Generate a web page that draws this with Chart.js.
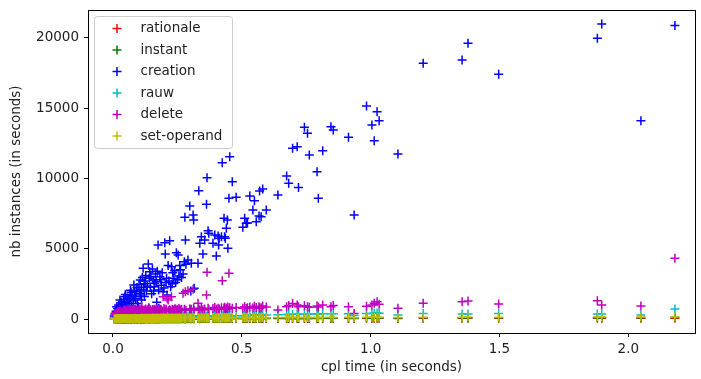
<!DOCTYPE html>
<html>
<head>
<meta charset="utf-8">
<script src="https://cdn.jsdelivr.net/npm/chart.js@4.4.0/dist/chart.umd.min.js"></script>
<style>
  html, body { margin: 0; padding: 0; background: #fff; }
  #wrap { width: 701px; height: 379px; }
</style>
</head>
<body>
<div id="wrap"><canvas id="scatterChart" width="701" height="379"></canvas></div>
<script>
/* series + ticks */
const seriesNames = ['rationale', 'instant', 'creation', 'rauw', 'delete', 'set-operand'];
const seriesColors = ['#ff0000', '#008000', '#0000ff', '#00bfbf', '#bf00bf', '#bfbf00'];
const xTicks = [0, 0.5, 1, 1.5, 2];
const yTicks = [0, 5000, 10000, 15000, 20000];

// cpl time of each instance (shared by every series)
const cplTime = [0.005,0.008,0.010,0.014,0.015,0.020,0.025,0.027,0.030,0.034,
  0.040,0.044,0.046,0.050,0.053,0.059,0.062,0.066,0.070,0.072,
  0.079,0.081,0.085,0.090,0.095,0.098,0.104,0.106,0.110,0.111,
  0.117,0.119,0.122,0.125,0.130,0.137,0.139,0.141,0.143,0.145,
  0.150,0.156,0.160,0.162,0.165,0.170,0.175,0.177,0.178,0.182,
  0.184,0.188,0.195,0.201,0.203,0.206,0.208,0.210,0.214,0.220,
  0.224,0.227,0.232,0.240,0.246,0.250,0.253,0.256,0.262,0.272,
  0.279,0.281,0.277,0.283,0.291,0.298,0.302,0.304,0.311,0.313,
  0.315,0.330,0.333,0.337,0.343,0.349,0.356,0.365,0.363,0.369,
  0.372,0.388,0.395,0.401,0.408,0.410,0.412,0.421,0.424,0.431,
  0.433,0.436,0.440,0.444,0.446,0.453,0.450,0.463,0.478,0.504,
  0.511,0.517,0.522,0.531,0.543,0.549,0.556,0.569,0.567,0.575,
  0.581,0.595,0.640,0.674,0.682,0.697,0.715,0.720,0.743,0.755,
  0.762,0.792,0.797,0.814,0.846,0.855,0.914,0.936,0.984,1.005,
  1.014,1.025,1.033,1.106,1.204,1.355,1.378,1.497,1.880,1.897,
  2.049,2.181,
  0.012,0.018,0.022,0.032,0.037,0.042,0.048,0.056,0.064,0.068,
  0.075,0.083,0.088,0.093,0.101,0.108,0.114,0.121,0.127,0.133,
  0.147,0.153,0.158,0.168,0.172,0.186,0.191,0.198,0.217,0.230,
  0.236,0.243,0.259,0.266];

const rationale = [0,2,4,6,3,8,5,10,6,8,
  12,8,14,10,12,8,14,16,12,14,
  10,16,12,14,8,12,16,14,10,18,
  14,12,16,18,12,20,16,14,18,12,
  16,18,20,14,18,12,22,16,14,20,
  16,18,20,22,16,20,18,20,22,24,
  18,22,20,24,22,20,24,22,24,26,
  24,26,22,24,26,28,24,26,28,24,
  26,28,28,26,28,30,28,30,28,30,
  28,30,32,30,32,28,30,32,34,32,
  34,32,34,32,34,36,34,36,34,36,
  36,34,36,38,36,38,36,38,36,38,
  40,38,40,42,40,44,42,44,42,44,
  44,46,44,46,48,46,48,36,50,48,
  50,52,50,44,52,52,54,52,56,56,
  54,60,
  4,6,8,10,8,12,14,12,10,14,
  16,12,18,14,16,12,18,16,20,16,
  18,20,16,22,20,22,18,24,20,24,
  22,24,26,24];

const instant = [3,6,9,12,8,15,10,18,12,15,
  20,14,24,18,20,15,24,28,20,24,
  18,28,20,24,15,20,28,24,18,30,
  24,20,28,30,20,34,28,24,30,20,
  28,30,34,24,30,20,38,28,24,34,
  28,30,34,38,28,34,30,34,38,40,
  30,38,34,40,38,34,40,38,40,44,
  40,44,38,40,44,48,40,44,48,40,
  44,48,48,44,48,50,48,50,48,50,
  48,50,54,50,54,48,50,54,56,54,
  56,54,56,54,56,60,56,60,56,60,
  60,56,60,64,60,64,60,64,60,64,
  66,64,66,70,66,72,70,72,70,72,
  72,76,72,76,80,76,80,60,84,80,
  84,86,84,72,86,86,90,86,92,92,
  90,100,
  8,12,15,18,15,20,24,20,18,24,
  28,20,30,24,28,20,30,28,34,28,
  30,34,28,38,34,38,30,40,34,40,
  38,40,44,40];

const creation = [150,410,300,880,200,600,250,1350,900,410,
  760,1200,1590,1000,1230,520,1400,1710,1900,930,
  1300,2420,1590,2000,1100,880,1830,2780,2100,1350,
  3610,2260,1600,2500,2000,3910,760,2900,3370,2260,
  1800,2780,2300,2540,3200,1200,5270,2060,760,3010,
  640,2400,1940,5430,4630,2600,2900,1710,3800,5570,
  2300,3720,3300,3440,4720,2800,4560,3060,3500,3200,
  7240,5620,4080,3900,4200,8040,1990,3960,7400,7050,
  2190,3960,9130,5390,5860,4630,5620,10060,8160,6280,
  6100,5390,5980,4480,5910,5270,5740,5860,11120,7170,
  5860,5740,6460,7050,5030,11550,8590,9770,8660,6530,
  7170,6810,6830,8750,7760,8420,6920,9110,7330,7280,
  9250,7760,8830,10180,9660,12150,12260,9350,13640,13220,
  11670,10480,8590,11980,13690,13450,12930,7400,15160,13810,
  12690,14750,14110,11740,18200,18430,19620,17420,19980,21000,
  14110,20880,
  550,750,1000,1150,950,1400,1750,1500,1100,2050,
  1650,1950,1450,2250,2450,1700,2950,2700,3100,2350,
  3000,3550,2000,2650,3400,2800,3300,2200,2700,2500,
  2900,2600,3800,2950];

const rauw = [60,80,70,90,60,100,80,110,90,100,
  120,90,130,110,120,100,130,140,120,130,
  110,150,120,140,100,130,150,140,120,160,
  150,130,140,150,130,160,150,140,150,130,
  140,150,160,140,150,130,160,150,140,160,
  150,140,160,170,150,160,150,160,170,160,
  150,170,160,170,160,170,160,170,170,180,
  170,180,170,170,190,180,180,180,190,180,
  180,190,190,190,190,190,200,200,200,200,
  200,210,210,210,210,200,210,220,220,220,
  220,220,220,230,230,230,230,230,240,240,
  250,250,250,260,260,260,260,270,270,270,
  280,280,300,320,320,330,330,340,340,350,
  350,360,360,370,370,380,380,250,400,400,
  410,420,410,285,400,356,356,400,356,356,
  285,710,
  70,80,90,100,90,110,120,120,110,130,
  130,120,140,130,140,130,150,140,150,140,
  150,150,140,160,150,160,150,160,160,170,
  160,170,170,170];

const deleteCounts = [250,320,380,450,300,520,350,600,420,480,
  560,400,650,500,580,450,620,700,540,600,
  520,680,560,610,480,640,700,580,520,880,
  620,540,600,680,560,700,800,620,590,660,
  540,620,700,580,640,560,700,620,520,660,
  600,580,1590,640,560,700,620,1470,1350,660,
  580,1590,640,720,600,680,560,740,620,1830,
  660,1940,700,600,2010,720,640,700,2110,760,
  620,1120,700,640,780,660,720,3320,1710,760,
  680,740,820,700,760,680,720,800,2730,760,
  840,700,780,720,860,800,3250,760,820,760,
  880,740,800,860,780,900,820,760,880,800,
  920,860,640,880,960,1100,1000,880,940,880,
  840,920,860,1000,880,960,880,400,900,1000,
  1120,1230,1050,760,1120,1230,1280,1070,1300,1000,
  925,4320,
  280,420,360,500,380,600,520,640,460,580,
  660,500,720,560,620,540,660,580,720,640,
  560,680,600,720,640,700,560,740,600,700,
  640,720,660,700];

const setOperand = [0,5,10,15,5,20,10,25,15,20,
  30,20,35,25,30,20,35,40,30,35,
  25,40,30,35,20,30,40,35,25,45,
  35,30,40,45,30,50,40,35,45,30,
  40,45,50,35,45,30,55,40,35,50,
  40,45,50,55,40,50,45,50,55,60,
  45,55,50,60,55,50,60,55,60,65,
  60,65,55,60,65,70,60,65,70,60,
  65,70,70,65,70,75,70,75,70,75,
  70,75,80,75,80,70,75,80,85,80,
  85,80,85,80,85,90,85,90,85,90,
  90,85,90,95,90,95,90,95,90,95,
  100,95,100,105,100,110,105,110,105,110,
  110,115,110,115,120,115,120,90,125,120,
  125,130,125,110,130,130,135,130,140,140,
  135,150,
  10,15,20,25,20,30,35,30,25,35,
  40,30,45,35,40,30,45,40,50,40,
  45,50,40,55,50,55,45,60,50,60,
  55,60,65,60];

const seriesValues = [rationale, instant, creation, rauw, deleteCounts, setOperand];

const FONT = 'DejaVu Sans';
const TEXT = '#222';

// black frame on all four sides, like matplotlib spines
const framePlugin = {
  id: 'frame',
  afterDraw(chart) {
    const a = chart.chartArea;
    const ctx = chart.ctx;
    ctx.save();
    ctx.strokeStyle = '#000';
    ctx.lineWidth = 1;
    ctx.strokeRect(Math.round(a.left) + 0.5, Math.round(a.top) + 0.5,
      Math.round(a.right - a.left), Math.round(a.bottom - a.top));
    ctx.restore();
  }
};

// legend box inside the plot (upper left)
const boxLegend = {
  id: 'boxLegend',
  afterDraw(chart) {
    const ctx = chart.ctx;
    const a = chart.chartArea;
    const x0 = a.left + 6.5, y0 = a.top + 6.5, w = 138, h = 132;
    ctx.save();
    ctx.beginPath();
    ctx.roundRect(x0, y0, w, h, 3);
    ctx.fillStyle = 'rgba(255,255,255,0.8)';
    ctx.fill();
    ctx.strokeStyle = '#cccccc';
    ctx.lineWidth = 1;
    ctx.stroke();
    ctx.font = '13.5px "' + FONT + '"';
    ctx.textBaseline = 'middle';
    ctx.textAlign = 'left';
    chart.data.datasets.forEach((ds, i) => {
      const cy = y0 + 12 + i * 21.5;
      const cx = x0 + 22.5;
      ctx.strokeStyle = ds.borderColor;
      ctx.lineWidth = 1.5;
      ctx.beginPath();
      ctx.moveTo(cx - 4.5, cy); ctx.lineTo(cx + 4.5, cy);
      ctx.moveTo(cx, cy - 4.5); ctx.lineTo(cx, cy + 4.5);
      ctx.stroke();
      ctx.fillStyle = TEXT;
      ctx.fillText(ds.label, x0 + 46, cy);
    });
    ctx.restore();
  }
};

const ctx = document.getElementById('scatterChart').getContext('2d');
const chart = new Chart(ctx, {
  type: 'scatter',
  data: {
    datasets: seriesNames.map((name, k) => ({
      label: name,
      data: cplTime.map((x, i) => ({ x: x, y: seriesValues[k][i] })),
      pointStyle: 'cross',
      pointRadius: 4.5,
      pointHoverRadius: 4.5,
      pointBorderWidth: 1.5,
      borderColor: seriesColors[k],
      backgroundColor: seriesColors[k],
      showLine: false,
      order: seriesNames.length - k
    }))
  },
  options: {
    responsive: false,
    animation: false,
    devicePixelRatio: 1,
    layout: { padding: { left: 0, top: 10, right: 4, bottom: 0 } },
    plugins: {
      legend: { display: false },
      tooltip: { enabled: false }
    },
    scales: {
      x: {
        type: 'linear',
        min: -0.097,
        max: 2.259,
        afterFit(s) { s.height = 46; s.paddingLeft = 0; s.paddingRight = 0; },
        afterBuildTicks(s) { s.ticks = xTicks.map(v => ({ value: v })); },
        ticks: {
          callback: v => v.toFixed(1),
          font: { family: FONT, size: 13.5 },
          color: TEXT,
          padding: 4,
          maxRotation: 0,
          autoSkip: false
        },
        grid: { display: true, drawOnChartArea: false, drawTicks: true, tickLength: 4, color: '#000', lineWidth: 1 },
        border: { display: false },
        title: {
          display: true,
          text: 'cpl time (in seconds)',
          font: { family: FONT, size: 13.5 },
          color: TEXT,
          padding: { top: 0, bottom: 3 }
        }
      },
      y: {
        type: 'linear',
        min: -996,
        max: 21990,
        afterFit(s) { s.width = 88; s.paddingTop = 0; s.paddingBottom = 0; },
        afterBuildTicks(s) { s.ticks = yTicks.map(v => ({ value: v })); },
        ticks: {
          callback: v => String(v),
          font: { family: FONT, size: 13.5 },
          color: TEXT,
          padding: 5,
          autoSkip: false
        },
        grid: { display: true, drawOnChartArea: false, drawTicks: true, tickLength: 4, color: '#000', lineWidth: 1 },
        border: { display: false },
        title: {
          display: true,
          text: 'nb instances (in seconds)',
          font: { family: FONT, size: 13.5 },
          color: TEXT,
          padding: { top: 8.5, bottom: 0 }
        }
      }
    }
  },
  plugins: [framePlugin, boxLegend]
});
</script>
</body>
</html>
